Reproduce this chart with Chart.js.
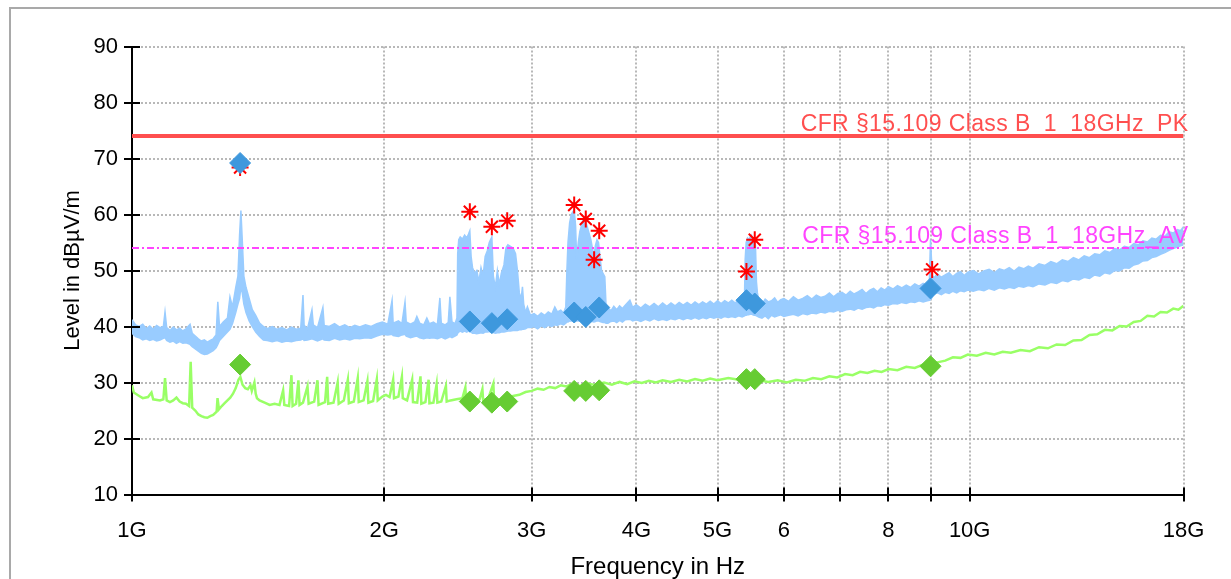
<!DOCTYPE html>
<html>
<head>
<meta charset="utf-8">
<script src="https://cdn.jsdelivr.net/npm/chart.js@4.4.1/dist/chart.umd.min.js"></script>
<style>
  html, body { margin: 0; padding: 0; background: #fff; overflow: hidden; }
  #frame { position: absolute; left: 9px; top: 7px; width: 1400px; height: 800px;
           border-top: 2px solid #a9a9a9; border-left: 2px solid #a9a9a9; }
  #emiChart { position: absolute; left: 0; top: 0; }
</style>
</head>
<body>
<div id="frame"></div>
<canvas id="emiChart" width="1231" height="579"></canvas>
<script>
// frequency axis in GHz
const xTickValues = [1, 2, 3, 4, 5, 6, 7, 8, 9, 10, 18];
const xTickLabels = ["1G", "2G", "3G", "4G", "5G", "6", "", "8", "", "10G", "18G"];
const yTickValues = [10, 15, 20, 25, 30, 35, 40, 45, 50, 55, 60, 65, 70, 75, 80, 85, 90];
const yTickLabels = ["10", "", "20", "", "30", "", "40", "", "50", "", "60", "", "70", "", "80", "", "90"];

// limits
const limitPk = 74;
const limitAv = 54;
const limitPkText = "CFR §15.109 Class B_1_18GHz_PK";
const limitAvText = "CFR §15.109 Class B_1_18GHz_AV";

// peak preview trace (upper / lower edge of the noise band)
const pkFreq = [
  1.000, 1.010, 1.020, 1.030, 1.040, 1.050, 1.060, 1.070, 1.080, 1.090,
  1.095, 1.100, 1.110, 1.120, 1.130, 1.140, 1.150, 1.160, 1.173, 1.180,
  1.190, 1.200, 1.210, 1.220, 1.230, 1.240, 1.250, 1.260, 1.266, 1.272,
  1.285, 1.300, 1.309, 1.318, 1.330, 1.338, 1.344, 1.349, 1.354, 1.360,
  1.368, 1.380, 1.392, 1.405, 1.420, 1.435, 1.450, 1.470, 1.490, 1.510,
  1.530, 1.550, 1.570, 1.590, 1.600, 1.605, 1.620, 1.640, 1.646, 1.665,
  1.690, 1.696, 1.720, 1.745, 1.770, 1.795, 1.820, 1.845, 1.870, 1.900,
  1.930, 1.960, 1.990, 2.020, 2.044, 2.050, 2.080, 2.100, 2.118, 2.125,
  2.150, 2.175, 2.188, 2.205, 2.230, 2.249, 2.265, 2.290, 2.315, 2.331,
  2.340, 2.365, 2.385, 2.396, 2.410, 2.430, 2.443, 2.448, 2.455, 2.465,
  2.480, 2.495, 2.510, 2.522, 2.531, 2.540, 2.550, 2.565, 2.580, 2.595,
  2.610, 2.625, 2.640, 2.655, 2.670, 2.689, 2.700, 2.715, 2.730, 2.745,
  2.760, 2.780, 2.795, 2.810, 2.830, 2.850, 2.870, 2.885, 2.900, 2.915,
  2.925, 2.935, 2.950, 2.965, 2.990, 3.020, 3.050, 3.080, 3.110, 3.140,
  3.170, 3.197, 3.220, 3.250, 3.275, 3.295, 3.305, 3.315, 3.330, 3.345,
  3.360, 3.372, 3.385, 3.395, 3.410, 3.425, 3.440, 3.455, 3.470, 3.485,
  3.500, 3.515, 3.530, 3.545, 3.560, 3.575, 3.590, 3.605, 3.620, 3.635,
  3.650, 3.668, 3.680, 3.700, 3.730, 3.760, 3.790, 3.820, 3.850, 3.880,
  3.930, 3.960, 4.000, 4.050, 4.100, 4.150, 4.200, 4.250, 4.300, 4.350,
  4.400, 4.450, 4.500, 4.550, 4.600, 4.650, 4.700, 4.750, 4.800, 4.850,
  4.900, 4.950, 5.000, 5.050, 5.100, 5.150, 5.200, 5.250, 5.300, 5.350,
  5.385, 5.395, 5.410, 5.430, 5.450, 5.470, 5.490, 5.510, 5.530, 5.550,
  5.565, 5.580,
  5.600, 5.650, 5.700, 5.750, 5.800, 5.850, 5.900, 5.950, 6.000, 6.080,
  6.160, 6.240, 6.320, 6.400, 6.480, 6.560, 6.640, 6.720, 6.800, 6.880,
  6.960, 7.040, 7.120, 7.200, 7.280, 7.360, 7.440, 7.520, 7.600, 7.680,
  7.760, 7.840, 7.920, 8.000, 8.100, 8.200, 8.300, 8.400, 8.500, 8.600,
  8.700, 8.800, 8.900, 8.950, 8.980, 9.000, 9.030, 9.070, 9.150, 9.250,
  9.350, 9.450, 9.550, 9.650, 9.750, 9.850, 9.950, 10.10, 10.25, 10.40,
  10.55, 10.70, 10.85, 11.00, 11.15, 11.30, 11.45, 11.60, 11.75, 11.90,
  12.10, 12.30, 12.50, 12.70, 12.90, 13.10, 13.30, 13.50, 13.70, 13.90,
  14.10, 14.30, 14.50, 14.70, 14.90, 15.10, 15.30, 15.50, 15.70, 15.90,
  16.10, 16.30, 16.50, 16.70, 16.90, 17.10, 17.30, 17.50, 17.70, 17.85, 18.00
];
const pkHigh = [
  41.2, 40.3, 40.0, 40.4, 39.6, 40.1, 39.5, 40.2, 39.8, 40.0,
  42.6, 39.8, 39.3, 39.9, 39.4, 39.7, 39.2, 39.6, 40.4, 38.8,
  38.3, 37.8, 37.4, 37.6, 37.2, 37.5, 37.8, 38.5, 44.4, 40.0,
  40.8, 41.5, 45.3, 43.5, 47.0, 49.0, 56.3, 60.7, 55.5, 49.0,
  47.0, 45.0, 43.0, 42.0, 40.6, 40.0, 39.6, 40.0, 39.5, 39.8,
  39.4, 39.9, 39.5, 39.7, 45.6, 40.2, 39.6, 43.0, 40.3, 39.8,
  43.4, 40.2, 40.0, 40.5, 39.9, 40.3, 39.8, 40.2, 39.9, 40.3,
  40.0, 40.5, 40.8, 40.4, 44.7, 40.6, 41.0, 40.5, 44.4, 40.8,
  40.4, 40.8, 41.8, 40.6, 40.3, 41.5, 40.5, 40.8, 40.3, 45.1,
  40.6, 40.3, 40.7, 45.3, 40.8, 40.5, 41.5, 53.0, 55.5, 56.0,
  55.6, 56.3, 55.8, 56.5, 57.1, 52.5, 50.5, 49.5, 50.0, 48.0,
  50.5, 49.0, 52.5, 53.5, 55.0, 56.0, 49.0, 47.0, 50.0, 47.5,
  49.5, 51.0, 54.0, 54.6, 54.3, 54.0, 53.0, 50.0, 46.0, 45.0,
  47.1, 44.0, 42.5, 43.5, 42.0, 42.3, 41.8, 42.4, 42.0, 42.6,
  42.2, 43.5, 42.6, 42.9, 42.4, 43.5, 50.0, 55.0, 58.5, 60.0,
  60.5, 60.8, 58.0, 52.0, 55.0, 57.0, 58.0, 59.0, 59.5, 58.5,
  57.5, 56.5, 55.5, 54.0, 52.5, 54.5, 55.5, 55.0, 52.5, 50.0,
  49.5, 48.9, 44.0, 43.4, 42.8, 43.6, 43.0, 43.7, 43.2, 43.8,
  44.7, 43.4, 43.9, 43.3, 44.0, 43.5, 44.1, 43.5, 44.2, 43.6,
  44.2, 43.7, 44.3, 43.8, 44.3, 43.8, 44.4, 43.9, 44.4, 44.0,
  44.5, 44.0, 44.6, 44.1, 44.6, 44.2, 44.7, 44.2, 44.8, 44.3,
  45.2, 52.0, 55.0, 55.8, 55.5, 56.0, 56.3, 55.5, 55.8, 54.5,
  48.0, 46.0,
  44.6, 44.0, 44.9, 44.4, 44.6, 45.1, 44.3, 44.8, 45.0, 44.5,
  45.3, 44.7, 45.0, 45.5, 44.9, 45.6, 45.2, 45.4, 46.0, 45.3,
  45.9, 46.1, 45.6, 46.3, 45.8, 46.2, 46.6, 45.9, 46.5, 46.8,
  46.2, 46.9, 46.5, 47.1, 46.7, 47.3, 46.9, 47.4, 47.0, 47.6,
  47.2, 47.7, 47.3, 48.0, 55.5, 52.5, 49.0, 48.7, 49.4, 48.8,
  49.2, 49.6, 48.9, 49.5, 49.8, 49.1, 49.7, 50.0, 49.4, 49.9,
  50.2, 49.6, 50.3, 50.0, 50.5, 49.9, 50.6, 50.3, 50.8, 50.4,
  51.2, 50.9, 51.6, 51.2, 51.9, 51.6, 52.3, 51.9, 52.6, 52.3,
  53.0, 52.8, 53.5, 53.2, 53.9, 53.7, 54.3, 54.1, 54.8, 54.6,
  55.3, 55.1, 55.8, 55.6, 56.3, 56.1, 56.9, 56.7, 57.3, 57.1, 57.8
];
const pkLow = [
  38.8, 38.2, 38.0, 37.6, 37.8, 37.5, 37.7, 37.4, 37.6, 37.9,
  38.0, 37.5, 37.2, 37.4, 37.0, 37.3, 37.0, 37.1, 36.8, 36.4,
  36.0, 35.6, 35.2, 35.0, 35.1, 35.4, 35.7, 36.2, 36.8, 37.5,
  38.2, 39.0, 39.5, 40.5, 42.5, 44.0, 45.0, 47.0, 46.0, 44.0,
  42.5, 41.0, 40.0, 39.0, 38.2, 37.6, 37.5, 37.3, 37.5, 37.2,
  37.4, 37.3, 37.5, 37.6, 37.8, 37.5, 37.6, 37.8, 37.7, 37.4,
  37.8, 37.6, 37.5, 37.9, 37.6, 37.8, 37.6, 37.9, 37.8, 38.0,
  37.9, 38.3, 38.6, 38.5, 38.6, 38.4, 38.2, 38.5, 38.6, 38.3,
  38.0, 38.2, 38.3, 38.0, 37.8, 38.0, 37.9, 38.0, 37.8, 38.0,
  38.1, 37.8, 38.0, 38.2, 38.0, 38.3, 38.5, 38.8, 39.0, 39.2,
  39.0, 39.2, 39.0, 39.2, 39.0, 39.0, 38.8, 38.8, 38.7, 38.8,
  38.9, 38.8, 39.0, 39.0, 39.1, 39.0, 38.9, 38.8, 38.9, 38.9,
  39.0, 39.0, 39.1, 39.2, 39.2, 39.3, 39.3, 39.3, 39.4, 39.4,
  39.5, 39.5, 39.6, 39.8, 39.8, 40.0, 39.6, 40.1, 39.8, 40.2,
  40.0, 40.3, 40.2, 40.5, 40.3, 40.6, 40.8, 40.8, 41.0, 41.0,
  41.0, 41.2, 41.0, 41.0, 41.0, 41.0, 41.1, 41.0, 41.2, 41.0,
  41.0, 40.9, 40.9, 40.9, 40.8, 40.9, 41.0, 41.0, 40.9, 40.8,
  40.7, 40.7, 40.6, 40.6, 40.9, 41.0, 40.7, 41.1, 40.8, 41.2,
  41.3, 41.0, 41.2, 40.9, 41.3, 41.0, 41.4, 41.1, 41.3, 41.1,
  41.4, 41.2, 41.5, 41.2, 41.5, 41.3, 41.6, 41.3, 41.6, 41.4,
  41.7, 41.5, 41.7, 41.5, 41.8, 41.6, 41.8, 41.6, 41.9, 41.7,
  41.9, 42.0, 42.0, 42.1, 42.1, 42.2, 42.2, 42.1, 42.0, 42.0,
  41.9, 41.8,
  41.7, 41.5, 41.9, 41.4, 42.0, 41.7, 41.9, 42.1, 41.8, 42.0,
  42.2, 41.9, 42.3, 42.1, 42.4, 42.3, 42.6, 42.4, 42.7, 42.6,
  42.9, 42.7, 43.0, 43.1, 42.9, 43.3, 43.1, 43.4, 43.5, 43.3,
  43.7, 43.6, 43.9, 43.8, 44.1, 44.0, 44.3, 44.1, 44.4, 44.3,
  44.6, 44.4, 44.6, 44.7, 44.8, 45.0, 45.4, 45.8, 46.0, 45.7,
  46.1, 45.9, 46.3, 46.0, 46.4, 46.2, 46.5, 46.3, 46.6, 46.4,
  46.8, 46.5, 46.9, 46.7, 47.0, 46.8, 47.2, 47.0, 47.3, 47.1,
  47.6, 47.4, 47.9, 47.7, 48.2, 48.0, 48.5, 48.3, 48.8, 48.6,
  49.2, 49.0, 49.6, 49.4, 50.0, 49.9, 50.5, 50.4, 51.0, 51.2,
  51.7, 51.8, 52.3, 52.5, 52.9, 53.2, 53.6, 53.9, 54.2, 54.4, 54.6
];

// average preview trace
const avFreq = [
  1.000, 1.005, 1.020, 1.030, 1.045, 1.055, 1.060, 1.080, 1.090, 1.095,
  1.100, 1.110, 1.120, 1.130, 1.140, 1.150, 1.160, 1.170, 1.175, 1.180,
  1.190, 1.200, 1.210, 1.220, 1.230, 1.240, 1.250, 1.262, 1.265, 1.270,
  1.280, 1.290, 1.300, 1.310, 1.320, 1.330, 1.340, 1.347, 1.355, 1.365,
  1.375, 1.385, 1.390, 1.400, 1.405, 1.410, 1.420, 1.440, 1.460, 1.480,
  1.500, 1.515, 1.520, 1.540, 1.550, 1.555, 1.570, 1.580, 1.585, 1.600,
  1.620, 1.625, 1.650, 1.665, 1.670, 1.700, 1.710, 1.715, 1.740, 1.760,
  1.765, 1.790, 1.810, 1.815, 1.840, 1.860, 1.865, 1.890, 1.910, 1.915,
  1.940, 1.960, 1.965, 1.990, 2.010, 2.030, 2.050, 2.055, 2.080, 2.100,
  2.105, 2.130, 2.160, 2.165, 2.190, 2.210, 2.215, 2.240, 2.260, 2.265,
  2.290, 2.310, 2.315, 2.340, 2.370, 2.375, 2.400, 2.440, 2.480, 2.500,
  2.505, 2.550, 2.600, 2.620, 2.625, 2.660, 2.700, 2.705, 2.750,
  2.800, 2.850, 2.900, 2.950, 3.000, 3.050, 3.100, 3.150, 3.200, 3.250,
  3.300, 3.350, 3.420, 3.500, 3.580, 3.660, 3.740, 3.820, 3.900, 3.980,
  4.060, 4.140, 4.220, 4.300, 4.400, 4.500, 4.600, 4.700, 4.800, 4.900,
  5.000, 5.150, 5.300, 5.450, 5.600, 5.750, 5.900, 6.050, 6.200, 6.350,
  6.500, 6.650, 6.800, 6.950, 7.100, 7.250, 7.400, 7.550, 7.700, 7.850,
  8.000, 8.200, 8.400, 8.600, 8.800, 8.960, 9.150, 9.350, 9.550, 9.750,
  9.950, 10.20, 10.45, 10.70, 10.95, 11.20, 11.50, 11.80, 12.10, 12.40,
  12.70, 13.00, 13.30, 13.60, 13.90, 14.20, 14.50, 14.80, 15.10, 15.40,
  15.70, 16.00, 16.30, 16.60, 16.90, 17.20, 17.50, 17.75, 18.00
];
const avLevel = [
  29.5, 28.2, 27.6, 27.2, 27.4, 28.2, 27.0, 26.8, 27.0, 30.8,
  26.8, 26.5, 26.8, 27.3, 26.6, 26.3, 26.2, 25.8, 33.7, 25.5,
  25.0, 24.3, 24.0, 23.8, 23.7, 24.0, 24.2, 24.8, 27.2, 25.2,
  25.8, 26.3, 26.8, 27.3, 28.0, 29.0, 30.5, 31.0, 29.6, 29.0,
  28.8, 29.5, 28.5, 30.0, 28.0, 27.2, 26.8, 26.4, 26.0, 26.2,
  26.0, 28.6, 26.0, 25.8, 31.3, 25.8, 26.2, 30.4, 26.0, 26.4,
  29.3, 26.2, 26.6, 30.4, 26.0, 26.5, 31.0, 26.2, 26.4, 30.0,
  26.2, 26.8, 30.5, 26.3, 26.6, 30.8, 26.5, 26.8, 30.2, 26.4,
  26.7, 30.6, 26.8, 27.5, 27.8, 27.4, 30.5, 27.2, 27.5, 31.0,
  27.2, 26.8, 30.5, 26.5, 26.4, 31.1, 26.2, 26.5, 30.5, 26.3,
  26.4, 29.7, 26.4, 26.6, 29.4, 26.6, 26.8, 27.0, 27.2, 29.1,
  27.0, 26.9, 27.0, 28.8, 26.9, 27.0, 29.8, 27.1, 26.9,
  27.1, 27.6, 27.8, 28.3, 28.5, 28.9, 28.7, 29.2, 29.0, 29.5,
  29.3, 29.7, 29.4, 29.8, 29.5, 30.0, 29.6, 30.1, 29.7, 30.2,
  29.9, 30.3, 30.0, 30.4, 30.1, 30.5, 30.2, 30.6, 30.3, 30.7,
  30.4, 30.8, 30.5, 30.7, 30.4, 30.1, 30.4, 30.0, 30.5, 30.3,
  30.8, 30.6, 31.1, 30.9, 31.5, 31.3, 31.9, 31.7, 32.1, 31.9,
  32.4, 32.2, 32.8, 32.6, 33.2, 33.1, 33.6, 33.9, 34.5, 34.4,
  35.0, 34.8, 35.3, 35.0, 35.5, 35.3, 35.8, 35.6, 36.3, 36.1,
  36.8, 36.7, 37.5, 37.6, 38.5, 38.6, 39.4, 39.3, 40.1, 40.0,
  40.8, 41.0, 41.9, 41.8, 42.6, 42.5, 43.2, 43.0, 43.7
];

// final measurements (diamonds) and preview peaks (stars)
const finalFreq = [1.346, 2.531, 2.689, 2.805, 3.372, 3.481, 3.612, 5.414, 5.539, 8.98];
const finalPk = [69.2, 40.9, 40.6, 41.3, 42.5, 41.7, 43.4, 44.7, 44.1, 46.8];
const finalAv = [33.2, 26.6, 26.4, 26.6, 28.5, 28.5, 28.6, 30.6, 30.6, 32.9];
const peakFreq = [1.346, 2.531, 2.689, 2.805, 3.372, 3.481, 3.562, 3.612, 5.414, 5.539, 9.02];
const peakLevel = [68.4, 60.5, 57.8, 58.9, 61.7, 59.2, 51.9, 57.1, 49.8, 55.5, 50.2];

const FONT = "'Liberation Sans', Arial, sans-serif";

const toPoints = (xs, ys) => xs.map((f, i) => ({ x: f, y: ys[i] }));

// axis crossing ticks + limit line captions
const emiDecor = {
  id: "emiDecor",
  afterDatasetsDraw(chart) {
    const { ctx, chartArea, scales } = chart;
    ctx.save();
    ctx.font = "23px " + FONT;
    ctx.letterSpacing = "0.4px";
    ctx.textAlign = "right";
    ctx.textBaseline = "alphabetic";
    ctx.fillStyle = "#ff4f4f";
    ctx.fillText(limitPkText, chartArea.right + 5, scales.y.getPixelForValue(limitPk) - 5);
    ctx.fillStyle = "#ff44ff";
    ctx.fillText(limitAvText, chartArea.right + 5, scales.y.getPixelForValue(limitAv) - 5);
    ctx.restore();
  },
  afterDraw(chart) {
    const { ctx, chartArea, scales } = chart;
    ctx.save();
    ctx.strokeStyle = "#000";
    ctx.lineWidth = 2;
    ctx.beginPath();
    scales.y.ticks.forEach(t => {
      const py = Math.round(scales.y.getPixelForValue(t.value));
      ctx.moveTo(chartArea.left - 8, py);
      ctx.lineTo(chartArea.left + 8, py);
    });
    scales.x.ticks.forEach(t => {
      const px = Math.round(scales.x.getPixelForValue(t.value));
      ctx.moveTo(px, chartArea.bottom - 7);
      ctx.lineTo(px, chartArea.bottom + 7);
    });
    ctx.stroke();
    ctx.restore();
  }
};

const gridOpts = { color: "#b8b8b8", lineWidth: 2, drawTicks: false };
const borderOpts = { display: true, color: "#000", width: 2, dash: [2, 2] };

new Chart(document.getElementById("emiChart"), {
  type: "line",
  data: {
    datasets: [
      {
        label: "Final PK",
        data: toPoints(finalFreq, finalPk),
        showLine: false,
        pointStyle: "rectRot",
        pointRadius: 10.5,
        backgroundColor: "#3e98dd",
        borderColor: "#3e98dd",
        borderWidth: 1,
        order: 0
      },
      {
        label: "Final AV",
        data: toPoints(finalFreq, finalAv),
        showLine: false,
        pointStyle: "rectRot",
        pointRadius: 10.5,
        backgroundColor: "#66cc33",
        borderColor: "#66cc33",
        borderWidth: 1,
        order: 0
      },
      {
        label: "Preview peaks",
        data: toPoints(peakFreq, peakLevel),
        showLine: false,
        pointStyle: "star",
        pointRadius: 8.5,
        borderColor: "#ff0000",
        backgroundColor: "#ff0000",
        borderWidth: 2,
        order: 1
      },
      {
        label: "Limit PK",
        data: toPoints([1, 18], [limitPk, limitPk]),
        borderColor: "#ff4f4f",
        borderWidth: 4,
        pointRadius: 0,
        order: 2
      },
      {
        label: "Limit AV",
        data: toPoints([1, 18], [limitAv, limitAv]),
        borderColor: "#ff44ff",
        borderWidth: 2,
        borderDash: [7, 3, 2, 3],
        pointRadius: 0,
        order: 2
      },
      {
        label: "Preview AV",
        data: toPoints(avFreq, avLevel),
        borderColor: "#99ff66",
        borderWidth: 2.5,
        pointRadius: 0,
        order: 3
      },
      {
        label: "Preview PK high",
        data: toPoints(pkFreq, pkHigh),
        borderColor: "#99ccff",
        backgroundColor: "#99ccff",
        borderWidth: 1.5,
        pointRadius: 0,
        fill: "+1",
        order: 4
      },
      {
        label: "Preview PK low",
        data: toPoints(pkFreq, pkLow),
        borderColor: "#99ccff",
        borderWidth: 1.5,
        pointRadius: 0,
        order: 5
      }
    ]
  },
  options: {
    responsive: false,
    animation: false,
    devicePixelRatio: 1,
    layout: { padding: { left: 0, right: 47.5, top: 46.5, bottom: 0 } },
    plugins: { legend: { display: false }, tooltip: { enabled: false } },
    elements: { line: { tension: 0 } },
    scales: {
      x: {
        type: "logarithmic",
        min: 1,
        max: 18,
        afterBuildTicks: s => { s.ticks = xTickValues.map(v => ({ value: v })); },
        afterFit: s => { s.height = 84.5; },
        ticks: {
          autoSkip: false,
          maxRotation: 0,
          padding: 23,
          color: "#000",
          font: { family: FONT, size: 22 },
          callback: v => xTickLabels[xTickValues.indexOf(v)]
        },
        grid: gridOpts,
        border: borderOpts,
        title: {
          display: true,
          text: "Frequency in Hz",
          color: "#000",
          font: { family: FONT, size: 24 },
          padding: { top: 0, bottom: -3 }
        }
      },
      y: {
        type: "linear",
        min: 10,
        max: 90,
        afterBuildTicks: s => { s.ticks = yTickValues.map(v => ({ value: v })); },
        afterFit: s => { s.width = 132; },
        ticks: {
          padding: 14,
          color: "#000",
          font: { family: FONT, size: 22 },
          callback: v => yTickLabels[yTickValues.indexOf(v)]
        },
        grid: gridOpts,
        border: borderOpts,
        title: {
          display: true,
          text: "Level in dBµV/m",
          color: "#000",
          font: { family: FONT, size: 22 },
          padding: { top: 60, bottom: 0 }
        }
      }
    }
  },
  plugins: [emiDecor]
});
</script>
</body>
</html>
